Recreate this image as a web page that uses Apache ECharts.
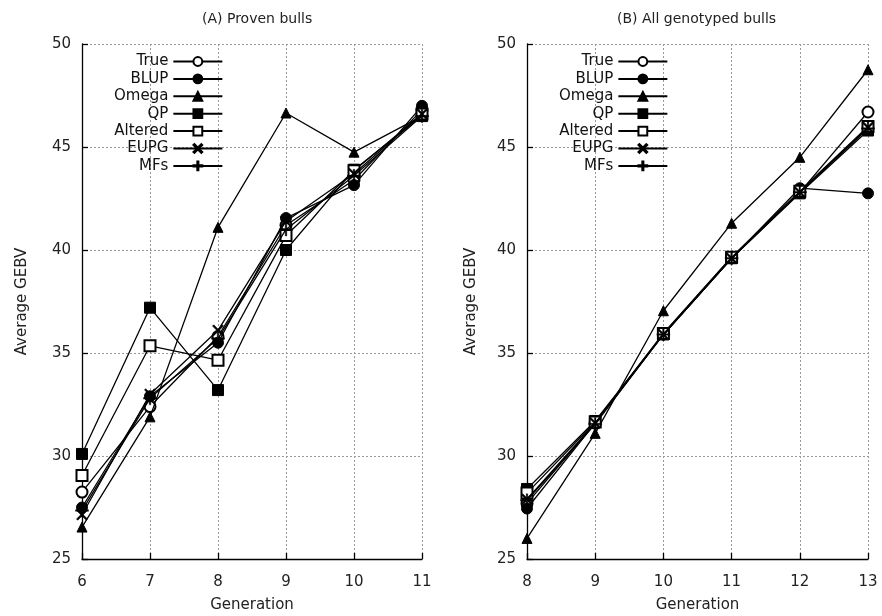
<!DOCTYPE html>
<html>
<head>
<meta charset="utf-8">
<script src="https://cdn.jsdelivr.net/npm/echarts@6/dist/echarts.min.js"></script>
<style>html,body{margin:0;padding:0;background:#fff}#c{width:882px;height:616px}</style>
</head>
<body>
<div id="c"></div>
<script>
// Panel A: Proven bulls (generations 6..11)
var genA = [6, 7, 8, 9, 10, 11];
var trueA    = [28.25, 32.4, 35.8, 41.2, 43.4, 46.8];
var blupA    = [27.5, 32.9, 35.5, 41.55, 43.15, 47.0];
var omegaA   = [26.55, 31.9, 41.1, 46.65, 44.75, 46.5];
var qpA      = [30.1, 37.2, 33.2, 40.0, 43.9, 46.5];
var alteredA = [29.05, 35.35, 34.65, 40.7, 43.85, 46.6];
var eupgA    = [27.15, 33.0, 36.1, 41.4, 43.7, 46.6];
var mfsA     = [27.35, 32.8, 35.7, 41.0, 43.6, 46.5];

// Panel B: All genotyped bulls (generations 8..13)
var genB = [8, 9, 10, 11, 12, 13];
var trueB    = [27.7, 31.6, 35.95, 39.65, 42.8, 46.7];
var blupB    = [27.45, 31.6, 35.9, 39.6, 43.0, 42.75];
var omegaB   = [26.0, 31.1, 37.05, 41.3, 44.5, 48.75];
var qpB      = [28.4, 31.7, 35.9, 39.6, 42.75, 45.8];
var alteredB = [28.2, 31.65, 35.95, 39.65, 42.85, 46.0];
var eupgB    = [27.9, 31.6, 35.9, 39.6, 42.8, 45.95];
var mfsB     = [27.85, 31.55, 35.9, 39.6, 42.8, 45.9];

var seriesNames = ['True', 'BLUP', 'Omega', 'QP', 'Altered', 'EUPG', 'MFs'];
var titles = ['(A) Proven bulls', '(B) All genotyped bulls'];
var yTicks = {min: 25, max: 50, interval: 5};

var crossPath = 'path://M0,1.1L1.1,0L10,8.9L8.9,10Z M8.9,0L10,1.1L1.1,10L0,8.9Z';
var plusPath = 'path://M4.4,0H5.6V10H4.4Z M0,4.4H10V5.6H0Z';
var symbols = ['emptyCircle', 'circle', 'triangle', 'rect', 'emptyRect', crossPath, plusPath];
var sizes = [11, 11, 10, 11, 11, 11, 13];
var borders = [1, 1, 1, 1, 1, 0.6, 0.4];

var dataA = [trueA, blupA, omegaA, qpA, alteredA, eupgA, mfsA];
var dataB = [trueB, blupB, omegaB, qpB, alteredB, eupgB, mfsB];

function zip(xs, ys) { return xs.map(function (x, i) { return [x, ys[i]]; }); }

var FONT = 'DejaVu Sans';
var series = [];
[dataA, dataB].forEach(function (set, p) {
  var xs = p === 0 ? genA : genB;
  set.forEach(function (ys, k) {
    series.push({
      type: 'line',
      name: seriesNames[k],
      xAxisIndex: p, yAxisIndex: p,
      data: zip(xs, ys),
      symbol: symbols[k],
      symbolSize: sizes[k],
      showAllSymbol: true,
      lineStyle: {color: '#000', width: 1.3},
      itemStyle: {color: '#000', borderColor: '#000', borderWidth: borders[k]},
      emphasis: {disabled: true},
      animation: false,
      z: 2 + k
    });
  });
});

function xAxis(idx, min, max) {
  return {
    type: 'value', gridIndex: idx, min: min, max: max, interval: 1,
    name: 'Generation', nameLocation: 'middle', nameGap: 39,
    nameTextStyle: {fontFamily: FONT, fontSize: 15, color: '#222'},
    axisLine: {show: true, onZero: false, lineStyle: {color: '#000', width: 1.3}},
    axisTick: {show: true, inside: true, length: 6, lineStyle: {color: '#000', width: 1.3}},
    axisLabel: {fontFamily: FONT, fontSize: 15, color: '#222', margin: 16},
    splitLine: {show: true, lineStyle: {color: '#999', type: [2, 2], width: 1}}
  };
}
function yAxis(idx, gap) {
  return {
    type: 'value', gridIndex: idx, min: yTicks.min, max: yTicks.max, interval: yTicks.interval,
    name: 'Average GEBV', nameLocation: 'middle', nameGap: gap, nameRotate: 90,
    nameTextStyle: {fontFamily: FONT, fontSize: 15, color: '#222'},
    axisLine: {show: true, onZero: false, lineStyle: {color: '#000', width: 1.3}},
    axisTick: {show: true, inside: true, length: 6, lineStyle: {color: '#000', width: 1.3}},
    axisLabel: {fontFamily: FONT, fontSize: 15, color: '#222', margin: 11},
    splitLine: {show: true, lineStyle: {color: '#999', type: [2, 2], width: 1}}
  };
}
function legend(left) {
  return {
    data: seriesNames, orient: 'vertical', align: 'right', left: left, top: 49,
    itemWidth: 49, itemHeight: 11, itemGap: 2.4,
    textStyle: {fontFamily: FONT, fontSize: 15, color: '#111', lineHeight: 14},
    selectedMode: false
  };
}

var chart = echarts.init(document.getElementById('c'), null, {renderer: 'canvas'});
chart.setOption({
  backgroundColor: '#fff',
  animation: false,
  title: [
    {text: titles[0], left: 197, top: 7, textStyle: {fontFamily: FONT, fontSize: 14, fontWeight: 'normal', color: '#222'}},
    {text: titles[1], left: 612, top: 7, textStyle: {fontFamily: FONT, fontSize: 14, fontWeight: 'normal', color: '#222'}}
  ],
  grid: [
    {left: 82, right: 460, top: 44, bottom: 57, outerBoundsMode: 'none', containLabel: false},
    {left: 527, right: 14, top: 44, bottom: 57, outerBoundsMode: 'none', containLabel: false}
  ],
  xAxis: [xAxis(0, 6, 11), xAxis(1, 8, 13)],
  yAxis: [yAxis(0, 52), yAxis(1, 48)],
  legend: [legend(109), legend(554)],
  series: series
});
</script>
</body>
</html>
